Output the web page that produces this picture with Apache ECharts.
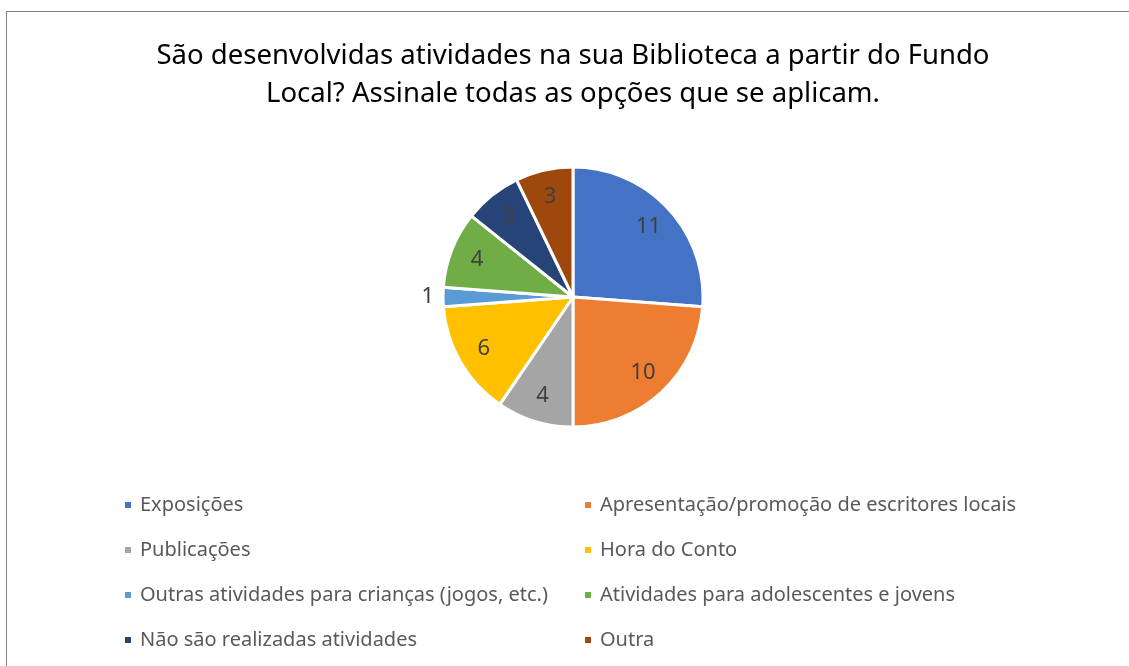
<!DOCTYPE html>
<html>
<head>
<meta charset="utf-8">
<script src="https://cdn.jsdelivr.net/npm/echarts@6/dist/echarts.min.js"></script>
<style>
html,body{margin:0;padding:0;background:#fff;}
#chart{width:1129px;height:666px;}
</style>
</head>
<body>
<div id="chart"></div>
<script>
const titleText = 'São desenvolvidas atividades na sua Biblioteca a partir do Fundo\nLocal? Assinale todas as opções que se aplicam.';
const categories = [
  'Exposições',
  'Apresentação/promoção de escritores locais',
  'Publicações',
  'Hora do Conto',
  'Outras atividades para crianças (jogos, etc.)',
  'Atividades para adolescentes e jovens',
  'Não são realizadas atividades',
  'Outra'
];
const values = [11, 10, 4, 6, 1, 4, 3, 3];
const colors = ['#4472C4', '#ED7D31', '#A5A5A5', '#FFC000', '#5B9BD5', '#70AD47', '#264478', '#9E480E'];
const leftLegend = [categories[0], categories[2], categories[4], categories[6]];
const rightLegend = [categories[1], categories[3], categories[5], categories[7]];

const FONT = 'Noto Sans';
const chart = echarts.init(document.getElementById('chart'));

const mainData = categories.map((n, i) => ({ name: n, value: values[i], itemStyle: { color: colors[i] } }));
const labelData = categories.map((n, i) => {
  const d = { name: n, value: values[i] };
  if (values[i] === 1) {
    d.label = { position: 'outside', align: 'right' };
    d.labelLine = { show: false, length: 4, length2: 0 };
  }
  return d;
});

const legendCommon = {
  orient: 'vertical',
  top: 493,
  padding: 0,
  icon: 'rect',
  itemWidth: 8,
  itemHeight: 8,
  itemGap: 21,
  selectedMode: false,
  textStyle: { fontFamily: FONT, fontSize: 20, color: '#595959', lineHeight: 24, padding: [0, 0, 0, 3] }
};

chart.setOption({
  animation: false,
  color: colors,
  title: {
    text: titleText,
    left: 568,
    top: 32,
    textAlign: 'center',
    textStyle: { fontFamily: FONT, fontSize: 27.5, fontWeight: 'normal', color: '#000', lineHeight: 38 }
  },
  graphic: [{
    type: 'rect',
    shape: { x: 6.5, y: 11.5, width: 1200, height: 800 },
    style: { fill: 'none', stroke: '#808080', lineWidth: 1 },
    silent: true
  }],
  legend: [
    Object.assign({}, legendCommon, { left: 123, data: leftLegend }),
    Object.assign({}, legendCommon, { left: 583, data: rightLegend })
  ],
  series: [
    {
      type: 'pie',
      center: [573, 297],
      radius: [0, 130],
      startAngle: 90,
      clockwise: true,
      avoidLabelOverlap: false,
      label: { show: false },
      labelLine: { show: false },
      emphasis: { disabled: true },
      itemStyle: { borderColor: '#fff', borderWidth: 3 },
      data: mainData
    },
    {
      type: 'pie',
      center: [573, 297],
      radius: [70, 130],
      startAngle: 90,
      clockwise: true,
      silent: true,
      avoidLabelOverlap: false,
      emphasis: { disabled: true },
      itemStyle: { color: 'rgba(0,0,0,0)', borderWidth: 0 },
      label: {
        show: true,
        position: 'inside',
        formatter: '{c}',
        fontFamily: FONT,
        fontSize: 22,
        color: '#404040'
      },
      labelLine: { show: false },
      data: labelData
    }
  ]
});
</script>
</body>
</html>
